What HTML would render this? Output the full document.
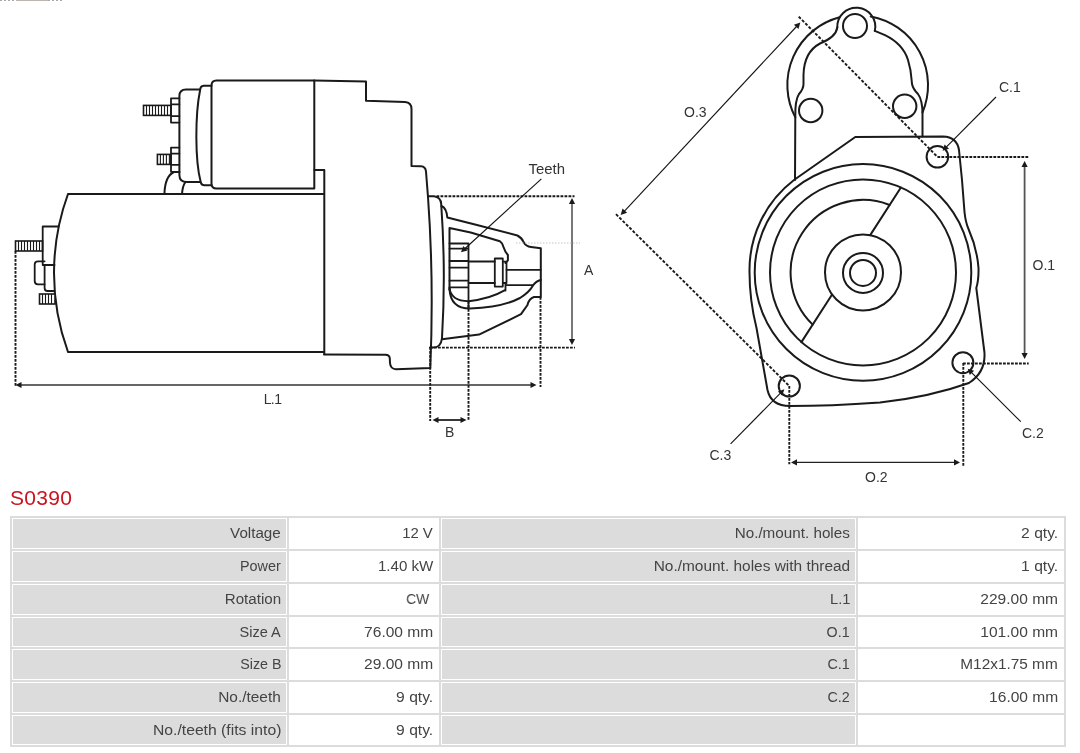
<!DOCTYPE html>
<html><head><meta charset="utf-8">
<style>
html,body{margin:0;padding:0;background:#fff;width:1080px;height:753px;overflow:hidden;position:relative;font-family:"Liberation Sans",sans-serif;}
#draw{position:absolute;left:0;top:0;will-change:transform;}
.title{position:absolute;left:10px;top:484px;font-size:21px;color:#c8141e;will-change:transform;line-height:28px;letter-spacing:0.3px;}
.c{position:absolute;box-sizing:border-box;border:1px solid #fff;text-align:right;color:#444;font-size:14px;white-space:nowrap;}
.c span{display:inline-block;transform-origin:100% 50%;will-change:transform;}
.g{background:#dcdcdc;}
.w{background:#fff;}
.tbl{position:absolute;left:10px;top:516px;width:1056px;height:231px;background:#dcdcdc;}
</style></head><body>
<svg id="draw" width="1080" height="500" viewBox="0 0 1080 500">
<path d="M68,194 L324,194 M68,352 L324,352 M68,194 A230,230 0 0 0 68,352" fill="none" stroke="#1a1a1a" stroke-width="2" stroke-linejoin="round" stroke-linecap="round" />
<rect x="15.5" y="241" width="27.0" height="10" fill="#fff" stroke="#1a1a1a" stroke-width="1.6"/>
<line x1="18.5" y1="241" x2="18.5" y2="251" stroke="#1a1a1a" stroke-width="1.1" />
<line x1="21.5" y1="241" x2="21.5" y2="251" stroke="#1a1a1a" stroke-width="1.1" />
<line x1="24.5" y1="241" x2="24.5" y2="251" stroke="#1a1a1a" stroke-width="1.1" />
<line x1="27.5" y1="241" x2="27.5" y2="251" stroke="#1a1a1a" stroke-width="1.1" />
<line x1="30.5" y1="241" x2="30.5" y2="251" stroke="#1a1a1a" stroke-width="1.1" />
<line x1="33.5" y1="241" x2="33.5" y2="251" stroke="#1a1a1a" stroke-width="1.1" />
<line x1="36.5" y1="241" x2="36.5" y2="251" stroke="#1a1a1a" stroke-width="1.1" />
<line x1="39.5" y1="241" x2="39.5" y2="251" stroke="#1a1a1a" stroke-width="1.1" />
<path d="M42.7,226.5 L58.5,226.5 M42.7,226.5 L42.7,265 L54.5,265" fill="none" stroke="#1a1a1a" stroke-width="1.8" stroke-linejoin="round" stroke-linecap="round" />
<path d="M44.6,265 L44.6,288 Q44.6,291 47.5,291 L54.5,291" fill="none" stroke="#1a1a1a" stroke-width="1.8" stroke-linejoin="round" stroke-linecap="round" />
<path d="M44.6,261.3 L38,261.3 Q34.7,261.3 34.7,264.5 L34.7,281 Q34.7,284.3 38,284.3 L44.6,284.3" fill="none" stroke="#1a1a1a" stroke-width="1.8" stroke-linejoin="round" stroke-linecap="round" />
<rect x="39.5" y="294" width="15.5" height="10" fill="#fff" stroke="#1a1a1a" stroke-width="1.6"/>
<line x1="42.5" y1="294" x2="42.5" y2="304" stroke="#1a1a1a" stroke-width="1.1" />
<line x1="45.5" y1="294" x2="45.5" y2="304" stroke="#1a1a1a" stroke-width="1.1" />
<line x1="48.5" y1="294" x2="48.5" y2="304" stroke="#1a1a1a" stroke-width="1.1" />
<line x1="51.5" y1="294" x2="51.5" y2="304" stroke="#1a1a1a" stroke-width="1.1" />
<rect x="143.5" y="105.4" width="27.5" height="10.0" fill="#fff" stroke="#1a1a1a" stroke-width="1.6"/>
<line x1="146.5" y1="105.4" x2="146.5" y2="115.4" stroke="#1a1a1a" stroke-width="1.1" />
<line x1="149.5" y1="105.4" x2="149.5" y2="115.4" stroke="#1a1a1a" stroke-width="1.1" />
<line x1="152.5" y1="105.4" x2="152.5" y2="115.4" stroke="#1a1a1a" stroke-width="1.1" />
<line x1="155.5" y1="105.4" x2="155.5" y2="115.4" stroke="#1a1a1a" stroke-width="1.1" />
<line x1="158.5" y1="105.4" x2="158.5" y2="115.4" stroke="#1a1a1a" stroke-width="1.1" />
<line x1="161.5" y1="105.4" x2="161.5" y2="115.4" stroke="#1a1a1a" stroke-width="1.1" />
<line x1="164.5" y1="105.4" x2="164.5" y2="115.4" stroke="#1a1a1a" stroke-width="1.1" />
<line x1="167.5" y1="105.4" x2="167.5" y2="115.4" stroke="#1a1a1a" stroke-width="1.1" />
<path d="M171,98.4 L179.4,98.4 M171,98.4 L171,122.6 L179.4,122.6 M171,104.3 L179.4,104.3 M171,116.2 L179.4,116.2" fill="none" stroke="#1a1a1a" stroke-width="1.8" stroke-linejoin="round" stroke-linecap="round" />
<rect x="157.4" y="154.4" width="13.599999999999994" height="10.0" fill="#fff" stroke="#1a1a1a" stroke-width="1.6"/>
<line x1="160.4" y1="154.4" x2="160.4" y2="164.4" stroke="#1a1a1a" stroke-width="1.1" />
<line x1="163.4" y1="154.4" x2="163.4" y2="164.4" stroke="#1a1a1a" stroke-width="1.1" />
<line x1="166.4" y1="154.4" x2="166.4" y2="164.4" stroke="#1a1a1a" stroke-width="1.1" />
<line x1="169.4" y1="154.4" x2="169.4" y2="164.4" stroke="#1a1a1a" stroke-width="1.1" />
<path d="M171,147.6 L179.4,147.6 M171,147.6 L171,171.8 L179.4,171.8 M171,153.7 L179.4,153.7 M171,164.8 L179.4,164.8" fill="none" stroke="#1a1a1a" stroke-width="1.8" stroke-linejoin="round" stroke-linecap="round" />
<path d="M164.4,194 Q165,176 174,172 L179.4,172" fill="none" stroke="#1a1a1a" stroke-width="2" stroke-linejoin="round" stroke-linecap="round" />
<path d="M182,194 Q182.5,186 185.5,182" fill="none" stroke="#1a1a1a" stroke-width="2" stroke-linejoin="round" stroke-linecap="round" />
<path d="M199.5,89.5 L186,89.5 Q179.4,89.5 179.4,96 L179.4,175 Q179.4,182 187,182 L200,182" fill="none" stroke="#1a1a1a" stroke-width="2" stroke-linejoin="round" stroke-linecap="round" />
<path d="M211.5,85.7 L203.5,85.7 Q200.5,86 200.2,89.5 C195,115 195,160 200.6,181.5 Q201.2,185.3 204.5,185.3 L211.5,185.3" fill="none" stroke="#1a1a1a" stroke-width="2" stroke-linejoin="round" stroke-linecap="round" />
<path d="M216.5,80.4 L314.3,80.4 L314.3,188.5 L216.5,188.5 Q211.5,188.5 211.5,183.5 L211.5,85.4 Q211.5,80.4 216.5,80.4 Z" fill="none" stroke="#1a1a1a" stroke-width="2" stroke-linejoin="round" stroke-linecap="round" />
<path d="M314.3,80.4 L366,81.5 L366,100.8 L405,102 Q411.5,102.5 411.5,109 L411.5,166 L421,166.2 Q425.5,166.5 426,171.5 L428,197 Q434,280 430.3,368 L396,369.2 Q390.5,369 390,363 L389.8,358.5 Q389.5,354.8 385.5,354.8 L324,354.5" fill="none" stroke="#1a1a1a" stroke-width="2" stroke-linejoin="round" stroke-linecap="round" />
<path d="M314.3,170 L324.3,170 L324.3,354" fill="none" stroke="#1a1a1a" stroke-width="2" stroke-linejoin="round" stroke-linecap="round" />
<path d="M428,196.2 L434,196.2 Q440.8,197 441.2,204 Q446,272 442,338 Q441,347.6 433,347.6 L430,347.6" fill="none" stroke="#1a1a1a" stroke-width="2" stroke-linejoin="round" stroke-linecap="round" />
<path d="M441.5,206 Q446.5,208 447.3,217.5 L475,224.5 L517.4,235.5 Q522,238 523.5,242 Q526,246.5 531,247 L540.8,248.3 L540.8,297 L534,297 Q529,298.5 527.5,305 L521,314.2 L479,334.6 L442,339.3" fill="none" stroke="#1a1a1a" stroke-width="2" stroke-linejoin="round" stroke-linecap="round" />
<path d="M449.5,290 L449.5,228.1 L470.7,232.5 L499.9,241.3 Q503,243.5 503.5,247 Q505,252 507.9,255 L507.9,260.3 L505.5,263" fill="none" stroke="#1a1a1a" stroke-width="2" stroke-linejoin="round" stroke-linecap="round" />
<path d="M449.5,288 Q451,301 468.5,301.2 Q490,299 505,290.2" fill="none" stroke="#1a1a1a" stroke-width="2" stroke-linejoin="round" stroke-linecap="round" />
<path d="M449.5,289 Q450.5,308.6 470,308.6 Q503,307 520,298 Q529,292.5 533,285.5 Q536,281 540.8,280" fill="none" stroke="#1a1a1a" stroke-width="2" stroke-linejoin="round" stroke-linecap="round" />
<path d="M449.5,243.5 L468.5,243.5 L468.5,308 M449.5,248.6 L468.5,248.6 M449.5,261 L468.5,261 M449.5,267.6 L468.5,267.6 M449.5,280.7 L468.5,280.7 M449.5,287.3 L468.5,287.3" fill="none" stroke="#1a1a1a" stroke-width="1.8" stroke-linejoin="round" stroke-linecap="round" />
<path d="M468.5,261.5 L494.8,261.5 M468.5,283 L494.8,283" fill="none" stroke="#1a1a1a" stroke-width="1.8" stroke-linejoin="round" stroke-linecap="round" />
<path d="M494.8,258.5 L502.8,258.5 L502.8,286.6 L494.8,286.6 Z" fill="none" stroke="#1a1a1a" stroke-width="1.8" stroke-linejoin="round" stroke-linecap="round" />
<path d="M502.8,261.7 L506.5,261.7 L506.5,283 L502.8,283" fill="none" stroke="#1a1a1a" stroke-width="1.8" stroke-linejoin="round" stroke-linecap="round" />
<path d="M506.5,269.8 L540.8,269.8 M506.5,285.1 L533,285.1 M505.5,283 L505.5,290.5" fill="none" stroke="#1a1a1a" stroke-width="1.8" stroke-linejoin="round" stroke-linecap="round" />
<line x1="436.5" y1="196.2" x2="574.5" y2="196.2" stroke="#1a1a1a" stroke-width="1.9" stroke-dasharray="2.8 1.2"/>
<line x1="430" y1="347.6" x2="575" y2="347.6" stroke="#1a1a1a" stroke-width="1.9" stroke-dasharray="2.8 1.2"/>
<line x1="572.0" y1="202.8" x2="572.0" y2="340.2" stroke="#555" stroke-width="1.6" />
<path d="M572.0,345.0 L568.9,339.0 L575.1,339.0 Z" fill="#1a1a1a"/>
<path d="M572.0,198.0 L575.1,204.0 L568.9,204.0 Z" fill="#1a1a1a"/>
<line x1="516" y1="243" x2="580" y2="243" stroke="#c4c4c4" stroke-width="1" stroke-dasharray="1.5 1.5"/>
<text x="584" y="275" font-family="Liberation Sans, sans-serif" font-size="14" fill="#333" text-anchor="start" >A</text>
<line x1="15.5" y1="251" x2="15.5" y2="387" stroke="#1a1a1a" stroke-width="1.9" stroke-dasharray="2.8 1.2"/>
<line x1="540.5" y1="297" x2="540.5" y2="387" stroke="#1a1a1a" stroke-width="1.9" stroke-dasharray="2.8 1.2"/>
<line x1="20.3" y1="385.0" x2="531.7" y2="385.0" stroke="#333" stroke-width="1.6" />
<path d="M536.5,385.0 L530.5,388.1 L530.5,381.9 Z" fill="#1a1a1a"/>
<path d="M15.5,385.0 L21.5,381.9 L21.5,388.1 Z" fill="#1a1a1a"/>
<text y="404" font-family="Liberation Sans, sans-serif" font-size="14" fill="#333"><tspan x="263.8">L</tspan><tspan x="270.8">.</tspan><tspan x="274.2">1</tspan></text>
<line x1="430.2" y1="347" x2="430.2" y2="421" stroke="#1a1a1a" stroke-width="1.9" stroke-dasharray="2.8 1.2"/>
<line x1="468.5" y1="301" x2="468.5" y2="421" stroke="#1a1a1a" stroke-width="1.9" stroke-dasharray="2.8 1.2"/>
<line x1="437.3" y1="420.0" x2="461.7" y2="420.0" stroke="#222" stroke-width="1.8" />
<path d="M466.5,420.0 L460.5,423.1 L460.5,416.9 Z" fill="#1a1a1a"/>
<path d="M432.5,420.0 L438.5,416.9 L438.5,423.1 Z" fill="#1a1a1a"/>
<text x="445" y="437" font-family="Liberation Sans, sans-serif" font-size="14" fill="#333" text-anchor="start" >B</text>
<text x="528.5" y="174" font-family="Liberation Sans, sans-serif" font-size="14" fill="#333" text-anchor="start" textLength="36.5" lengthAdjust="spacingAndGlyphs">Teeth</text>
<line x1="541.4" y1="178.8" x2="464.5" y2="249.0" stroke="#111" stroke-width="1.1" />
<path d="M461.0,252.2 L463.3,245.9 L467.5,250.4 Z" fill="#1a1a1a"/>
<path d="M795.3,117.4 A70,70 0 0 1 839.6,17.3" fill="none" stroke="#1a1a1a" stroke-width="2" stroke-linejoin="round" stroke-linecap="round" />
<path d="M870.7,16.4 A70,70 0 0 1 922.5,112.5" fill="none" stroke="#1a1a1a" stroke-width="2" stroke-linejoin="round" stroke-linecap="round" />
<path d="M837.3,27.5 A19,19 0 1 1 874.8,30.9" fill="none" stroke="#1a1a1a" stroke-width="2" stroke-linejoin="round" stroke-linecap="round" />
<path d="M837.3,27.5 Q836,37 820,43.5 Q804,52 803.5,75 L803.5,84 Q803.5,89 799,94 Q795,100 795.3,117 L795,180" fill="none" stroke="#1a1a1a" stroke-width="2" stroke-linejoin="round" stroke-linecap="round" />
<path d="M874.8,30.9 L885,35.2 Q903,44 908,60 Q911,70 911.5,79 L912,84 Q913,89 918,94 Q922.5,100 922.5,114 L922.5,136.5" fill="none" stroke="#1a1a1a" stroke-width="2" stroke-linejoin="round" stroke-linecap="round" />
<circle cx="855" cy="26" r="12" fill="none" stroke="#1a1a1a" stroke-width="2"/>
<circle cx="810.7" cy="110.5" r="11.7" fill="none" stroke="#1a1a1a" stroke-width="2"/>
<circle cx="904.7" cy="106.2" r="11.7" fill="none" stroke="#1a1a1a" stroke-width="2"/>
<path d="M794,180 L855.3,137 L943,136.5 Q957,137 959,150 L962,180 L964.5,212 Q965.5,222 968.5,229 Q977,248 978.5,268 Q978.8,280 976.3,288 L984.4,352 Q986,372 968.9,383 Q930,397 880,402.5 Q830,406 790,406 Q771,406 767.5,390 L756.5,328 Q749.5,300 749.5,272 A113.5,113.5 0 0 1 794,180" fill="none" stroke="#1a1a1a" stroke-width="2" stroke-linejoin="round" stroke-linecap="round" />
<circle cx="863" cy="272.4" r="108.3" fill="none" stroke="#1a1a1a" stroke-width="2"/>
<circle cx="863" cy="272.4" r="93" fill="none" stroke="#1a1a1a" stroke-width="2"/>
<path d="M889.6,205 A72.5,72.5 0 0 0 812.7,324.6" fill="none" stroke="#1a1a1a" stroke-width="2" stroke-linejoin="round" stroke-linecap="round" />
<path d="M900.9,187.5 L870.2,235.1 M832.1,294.5 L801.4,342.1" fill="none" stroke="#1a1a1a" stroke-width="2" stroke-linejoin="round" stroke-linecap="round" />
<circle cx="863" cy="272.4" r="38" fill="none" stroke="#1a1a1a" stroke-width="2"/>
<circle cx="863" cy="272.9" r="20" fill="none" stroke="#1a1a1a" stroke-width="2"/>
<circle cx="863" cy="272.9" r="13" fill="none" stroke="#1a1a1a" stroke-width="2"/>
<circle cx="937.4" cy="156.8" r="10.8" fill="none" stroke="#1a1a1a" stroke-width="2"/>
<circle cx="962.9" cy="362.7" r="10.5" fill="none" stroke="#1a1a1a" stroke-width="2"/>
<circle cx="789.3" cy="386" r="10.6" fill="none" stroke="#1a1a1a" stroke-width="2"/>
<line x1="798.7" y1="16.6" x2="937.4" y2="156.8" stroke="#1a1a1a" stroke-width="1.9" stroke-dasharray="3 1.7"/>
<line x1="616" y1="214.2" x2="789.3" y2="386" stroke="#1a1a1a" stroke-width="1.9" stroke-dasharray="3 1.7"/>
<line x1="624.0" y1="211.6" x2="797.0" y2="26.0" stroke="#111" stroke-width="1.1" />
<path d="M800.3,22.5 L798.5,29.0 L793.9,24.8 Z" fill="#1a1a1a"/>
<path d="M620.7,215.1 L622.5,208.6 L627.1,212.8 Z" fill="#1a1a1a"/>
<text x="684" y="116.5" font-family="Liberation Sans, sans-serif" font-size="14" fill="#333" text-anchor="start" >O.3</text>
<line x1="937.4" y1="157" x2="1028.2" y2="157" stroke="#1a1a1a" stroke-width="1.9" stroke-dasharray="2.8 1.2"/>
<line x1="963" y1="363.5" x2="1028.7" y2="363.5" stroke="#1a1a1a" stroke-width="1.9" stroke-dasharray="2.8 1.2"/>
<line x1="1024.6" y1="165.7" x2="1024.6" y2="354.2" stroke="#555" stroke-width="1.8" />
<path d="M1024.6,359.0 L1021.5,353.0 L1027.7,353.0 Z" fill="#1a1a1a"/>
<path d="M1024.6,160.9 L1027.7,166.9 L1021.5,166.9 Z" fill="#1a1a1a"/>
<text x="1032.5" y="269.5" font-family="Liberation Sans, sans-serif" font-size="14" fill="#333" text-anchor="start" >O.1</text>
<line x1="789.3" y1="386" x2="789.3" y2="464.3" stroke="#1a1a1a" stroke-width="1.9" stroke-dasharray="2.8 1.2"/>
<line x1="963.3" y1="363" x2="963.3" y2="465.8" stroke="#1a1a1a" stroke-width="1.9" stroke-dasharray="2.8 1.2"/>
<line x1="795.8" y1="462.4" x2="955.2" y2="462.4" stroke="#222" stroke-width="1.3" />
<path d="M960.0,462.4 L954.0,465.5 L954.0,459.3 Z" fill="#1a1a1a"/>
<path d="M791.0,462.4 L797.0,459.3 L797.0,465.5 Z" fill="#1a1a1a"/>
<text x="865" y="482" font-family="Liberation Sans, sans-serif" font-size="14" fill="#333" text-anchor="start" >O.2</text>
<line x1="996.0" y1="97.0" x2="946.0" y2="147.4" stroke="#111" stroke-width="1.1" />
<path d="M942.6,150.8 L944.6,144.4 L949.0,148.7 Z" fill="#1a1a1a"/>
<text x="999" y="92" font-family="Liberation Sans, sans-serif" font-size="14" fill="#333" text-anchor="start" >C.1</text>
<line x1="1020.8" y1="421.7" x2="971.1" y2="372.1" stroke="#111" stroke-width="1.1" />
<path d="M967.7,368.7 L974.1,370.7 L969.8,375.1 Z" fill="#1a1a1a"/>
<text x="1022" y="437.5" font-family="Liberation Sans, sans-serif" font-size="14" fill="#333" text-anchor="start" >C.2</text>
<line x1="730.6" y1="443.9" x2="780.9" y2="392.7" stroke="#111" stroke-width="1.1" />
<path d="M784.3,389.3 L782.3,395.8 L777.9,391.4 Z" fill="#1a1a1a"/>
<text x="709.5" y="459.5" font-family="Liberation Sans, sans-serif" font-size="14" fill="#333" text-anchor="start" >C.3</text>
<line x1="0" y1="0.5" x2="16" y2="0.5" stroke="#aaa" stroke-width="1" stroke-dasharray="2 2"/>
<line x1="16" y1="0.5" x2="48" y2="0.5" stroke="#bdb6ae" stroke-width="1"/>
<line x1="48" y1="0.5" x2="64" y2="0.5" stroke="#aaa" stroke-width="1" stroke-dasharray="2 2"/>
</svg>
<div class="title">S0390</div>
<div class="tbl"></div>
<div class="c g" style="left:12px;top:518px;width:275px;height:31px;line-height:29px;padding-right:5px"><span style="transform:scaleX(1.083)">Voltage</span></div>
<div class="c w" style="left:289px;top:518px;width:150px;height:31px;line-height:29px;padding-right:5px"><span style="transform:scaleX(1.065)">12 V</span></div>
<div class="c g" style="left:441px;top:518px;width:415px;height:31px;line-height:29px;padding-right:5px"><span style="transform:scaleX(1.088)">No./mount. holes</span></div>
<div class="c w" style="left:858px;top:518px;width:206px;height:31px;line-height:29px;padding-right:5px"><span style="transform:scaleX(1.117)">2 qty.</span></div>
<div class="c g" style="left:12px;top:551px;width:275px;height:31px;line-height:29px;padding-right:5px"><span style="transform:scaleX(1.028)">Power</span></div>
<div class="c w" style="left:289px;top:551px;width:150px;height:31px;line-height:29px;padding-right:5px"><span style="transform:scaleX(1.080)">1.40 kW</span></div>
<div class="c g" style="left:441px;top:551px;width:415px;height:31px;line-height:29px;padding-right:5px"><span style="transform:scaleX(1.103)">No./mount. holes with thread</span></div>
<div class="c w" style="left:858px;top:551px;width:206px;height:31px;line-height:29px;padding-right:5px"><span style="transform:scaleX(1.117)">1 qty.</span></div>
<div class="c g" style="left:12px;top:584px;width:275px;height:31px;line-height:29px;padding-right:5px"><span style="transform:scaleX(1.082)">Rotation</span></div>
<div class="c w" style="left:289px;top:584px;width:150px;height:31px;line-height:29px;padding-right:5px"><span style="transform:scaleX(0.994)">CW&nbsp;</span></div>
<div class="c g" style="left:441px;top:584px;width:415px;height:31px;line-height:29px;padding-right:5px"><span style="transform:scaleX(1.048)">L.1</span></div>
<div class="c w" style="left:858px;top:584px;width:206px;height:31px;line-height:29px;padding-right:5px"><span style="transform:scaleX(1.110)">229.00 mm</span></div>
<div class="c g" style="left:12px;top:617px;width:275px;height:30px;line-height:28px;padding-right:5px"><span style="transform:scaleX(1.038)">Size A</span></div>
<div class="c w" style="left:289px;top:617px;width:150px;height:30px;line-height:28px;padding-right:5px"><span style="transform:scaleX(1.111)">76.00 mm</span></div>
<div class="c g" style="left:441px;top:617px;width:415px;height:30px;line-height:28px;padding-right:5px"><span style="transform:scaleX(1.017)">O.1</span></div>
<div class="c w" style="left:858px;top:617px;width:206px;height:30px;line-height:28px;padding-right:5px"><span style="transform:scaleX(1.110)">101.00 mm</span></div>
<div class="c g" style="left:12px;top:649px;width:275px;height:31px;line-height:29px;padding-right:5px"><span style="transform:scaleX(1.019)">Size B</span></div>
<div class="c w" style="left:289px;top:649px;width:150px;height:31px;line-height:29px;padding-right:5px"><span style="transform:scaleX(1.111)">29.00 mm</span></div>
<div class="c g" style="left:441px;top:649px;width:415px;height:31px;line-height:29px;padding-right:5px"><span style="transform:scaleX(1.023)">C.1</span></div>
<div class="c w" style="left:858px;top:649px;width:206px;height:31px;line-height:29px;padding-right:5px"><span style="transform:scaleX(1.098)">M12x1.75 mm</span></div>
<div class="c g" style="left:12px;top:682px;width:275px;height:31px;line-height:29px;padding-right:5px"><span style="transform:scaleX(1.103)">No./teeth</span></div>
<div class="c w" style="left:289px;top:682px;width:150px;height:31px;line-height:29px;padding-right:5px"><span style="transform:scaleX(1.117)">9 qty.</span></div>
<div class="c g" style="left:441px;top:682px;width:415px;height:31px;line-height:29px;padding-right:5px"><span style="transform:scaleX(1.023)">C.2</span></div>
<div class="c w" style="left:858px;top:682px;width:206px;height:31px;line-height:29px;padding-right:5px"><span style="transform:scaleX(1.111)">16.00 mm</span></div>
<div class="c g" style="left:12px;top:715px;width:275px;height:30px;line-height:28px;padding-right:5px"><span style="transform:scaleX(1.123)">No./teeth (fits into)</span></div>
<div class="c w" style="left:289px;top:715px;width:150px;height:30px;line-height:28px;padding-right:5px"><span style="transform:scaleX(1.117)">9 qty.</span></div>
<div class="c g" style="left:441px;top:715px;width:415px;height:30px;line-height:28px;padding-right:5px"></div>
<div class="c w" style="left:858px;top:715px;width:206px;height:30px;line-height:28px;padding-right:5px"></div>
</body></html>
